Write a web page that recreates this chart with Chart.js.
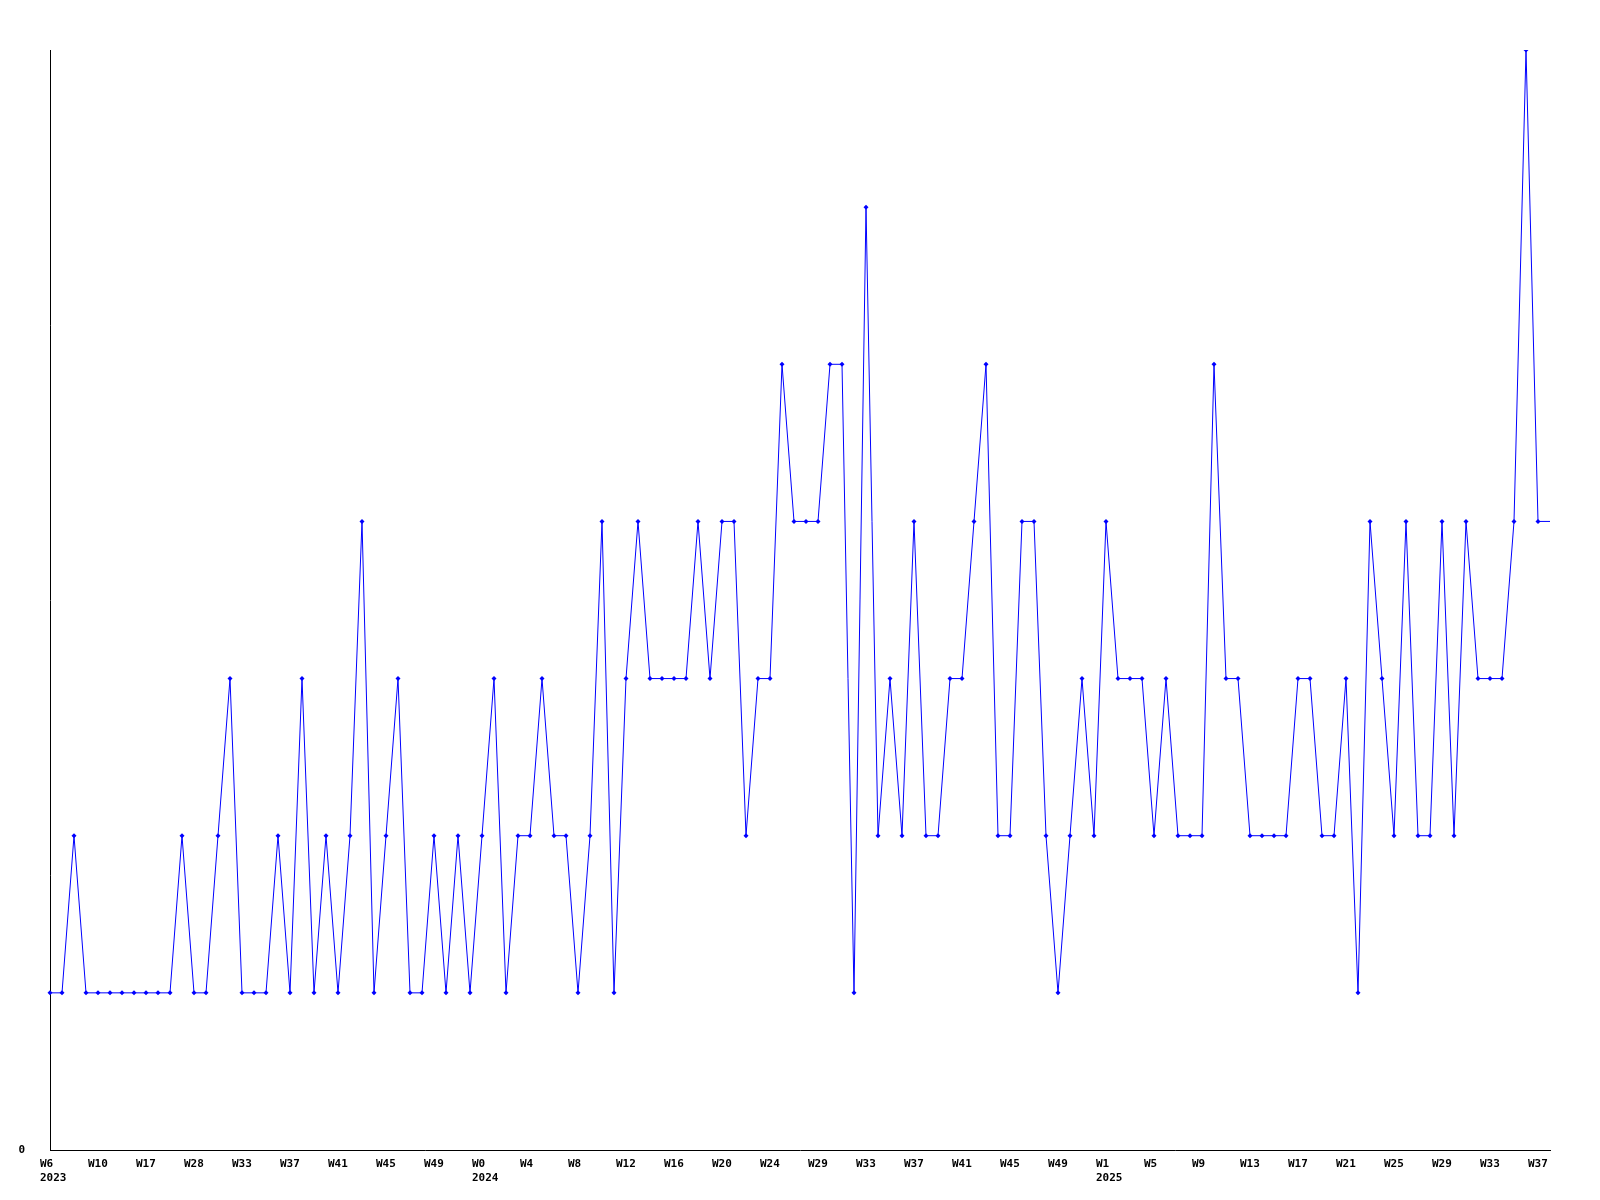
<!DOCTYPE html>
<html>
<head>
<meta charset="utf-8">
<script src="https://cdn.jsdelivr.net/npm/chart.js@4/dist/chart.umd.min.js"></script>
<style>
  html, body { margin: 0; padding: 0; background: #fff; }
  #wrap { width: 1600px; height: 1200px; }
</style>
</head>
<body>
<div id="wrap"><canvas id="weeks-chart" width="1600" height="1200"></canvas></div>
<script>
// Valores semanais (um ponto por semana listada)
const counts = [
  1, 1, 2, 1, 1, 1, 1, 1, 1, 1, 1, 2, 1, 1, 2, 3, 1, 1, 1, 2,
  1, 3, 1, 2, 1, 2, 4, 1, 2, 3, 1, 1, 2, 1, 2, 1, 2, 3, 1, 2,
  2, 3, 2, 2, 1, 2, 4, 1, 3, 4, 3, 3, 3, 3, 4, 3, 4, 4, 2, 3,
  3, 5, 4, 4, 4, 5, 5, 1, 6, 2, 3, 2, 4, 2, 2, 3, 3, 4, 5, 2,
  2, 4, 4, 2, 1, 2, 3, 2, 4, 3, 3, 3, 2, 3, 2, 2, 2, 5, 3, 3,
  2, 2, 2, 2, 3, 3, 2, 2, 3, 1, 4, 3, 2, 4, 2, 2, 4, 2, 4, 3,
  3, 3, 4, 7, 4, 4
];

// Rótulos do eixo X (um a cada 4 pontos)
const weekTicks = [
  'W6', 'W10', 'W17', 'W28', 'W33', 'W37', 'W41', 'W45', 'W49',
  'W0', 'W4', 'W8', 'W12', 'W16', 'W20', 'W24', 'W29', 'W33', 'W37', 'W41', 'W45', 'W49',
  'W1', 'W5', 'W9', 'W13', 'W17', 'W21', 'W25', 'W29', 'W33', 'W37'
];
// Ano mostrado abaixo do primeiro rótulo de cada ano
const yearTicks = { 0: '2023', 9: '2024', 22: '2025' };

// Eixo Y
const yMin = 0;
const yMax = 7;
const yTickLabels = { 0: '0' };

// Monta as categorias (rótulo em duas linhas quando há ano)
const categories = counts.map((_, i) => {
  if (i % 4 !== 0 || !weekTicks[i / 4]) return '';
  return [weekTicks[i / 4], yearTicks[i / 4] || ''];
});

const tickFont = { family: '"DejaVu Sans Mono", monospace', size: 11, weight: 'bold', lineHeight: 14 / 11 };

const ctx = document.getElementById('weeks-chart').getContext('2d');
new Chart(ctx, {
  type: 'line',
  data: {
    labels: categories,
    datasets: [{
      data: counts,
      borderColor: '#0000ff',
      backgroundColor: '#0000ff',
      borderWidth: 1,
      tension: 0,
      fill: false,
      pointStyle: 'rectRot',
      pointRadius: counts.map((_, i) => i < counts.length - 1 ? 2.5 : 0),
      pointBorderWidth: 0,
      pointBackgroundColor: '#0000ff'
    }]
  },
  options: {
    responsive: false,
    animation: false,
    layout: { padding: { top: 50, right: 50, bottom: 0, left: 0 } },
    plugins: {
      legend: { display: false },
      tooltip: { enabled: false },
      title: { display: false }
    },
    scales: {
      x: {
        offset: false,
        grid: { display: false, drawTicks: false },
        border: { display: true, color: '#000', width: 1 },
        ticks: {
          autoSkip: false,
          maxRotation: 0,
          minRotation: 0,
          align: 'start',
          labelOffset: -10,
          padding: 7,
          color: '#000',
          font: tickFont
        },
        afterFit: (scale) => { scale.height = 50; }
      },
      y: {
        min: yMin,
        max: yMax,
        grid: { display: false, drawTicks: false },
        border: { display: true, color: '#000', width: 1 },
        ticks: {
          stepSize: 1,
          padding: 25,
          color: '#000',
          font: tickFont,
          callback: (value) => yTickLabels[value] || ''
        },
        afterFit: (scale) => { scale.width = 50; }
      }
    }
  }
});
</script>
</body>
</html>
